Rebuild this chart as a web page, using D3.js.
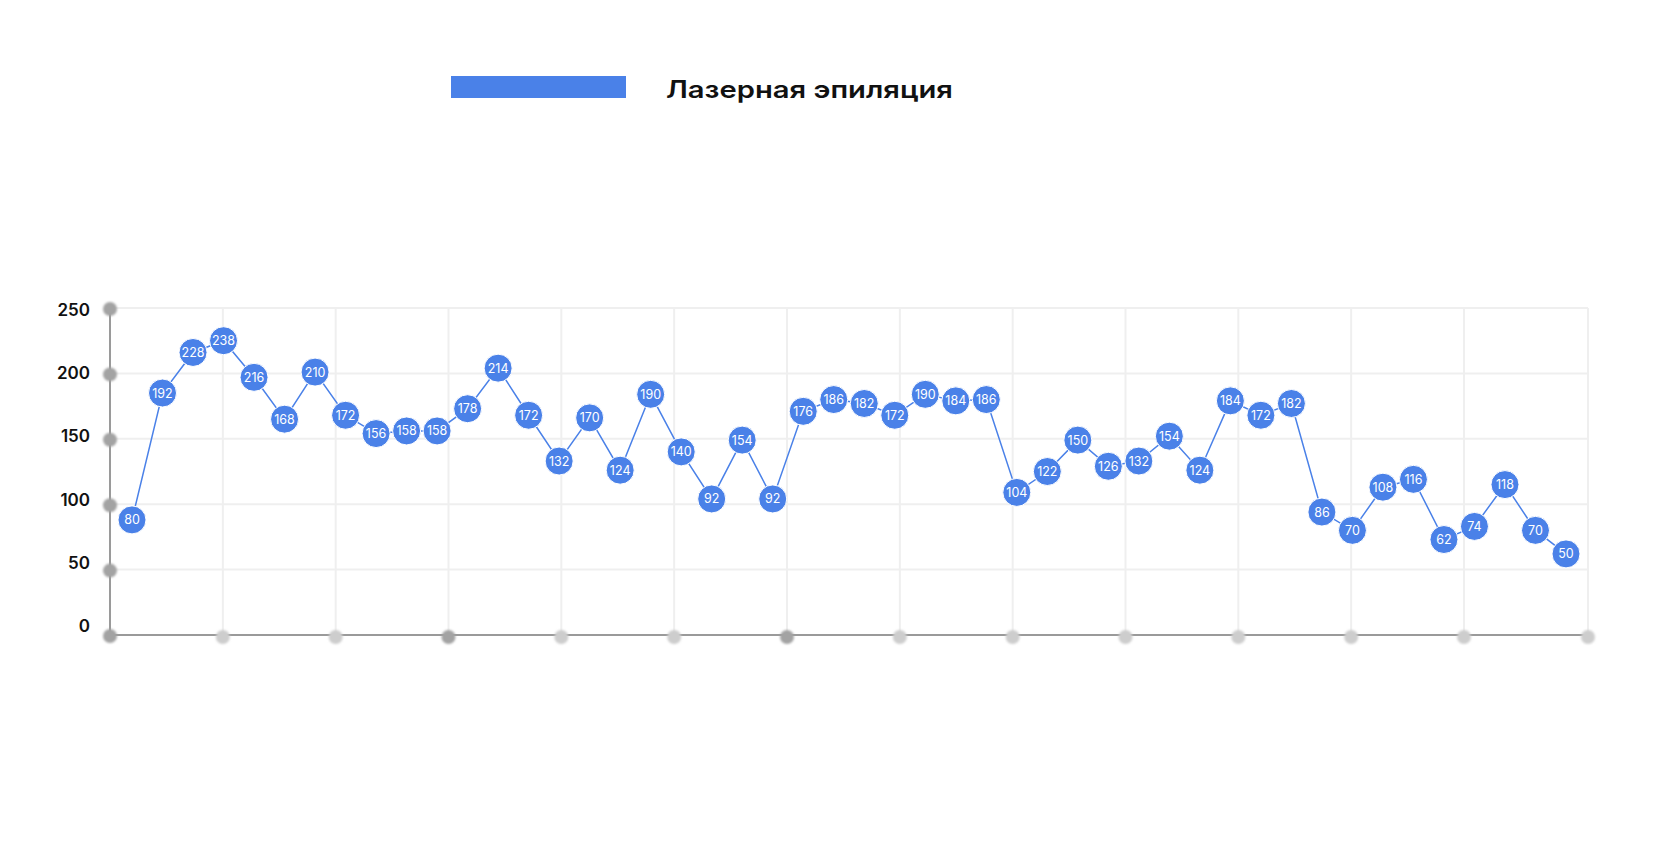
<!DOCTYPE html>
<html>
<head>
<meta charset="utf-8">
<script src="https://cdn.jsdelivr.net/npm/d3@7"></script>
<style>
  body { margin: 0; background: #fff; }
  svg { display: block; font-family: Inter, "Noto Sans", sans-serif; }
</style>
</head>
<body>
<div id="chart-wrapper"></div>
<script>
// series name
const seriesName = "Лазерная эпиляция";

// numbers printed inside the markers
const pointLabels = [80, 192, 228, 238, 216, 168, 210, 172, 156, 158, 158, 178, 214, 172, 132, 170,
  124, 190, 140, 92, 154, 92, 176, 186, 182, 172, 190, 184, 186, 104, 122, 150,
  126, 132, 154, 124, 184, 172, 182, 86, 70, 108, 116, 62, 74, 118, 70, 50];

// where the markers sit against the y axis
const pointValues = [88, 185, 216, 225, 197, 165, 201, 168, 154, 156, 156, 173, 204, 168, 133, 166,
  126, 184, 140, 104, 149, 104, 171, 180, 177, 168, 184, 179, 180, 109, 125, 149,
  129, 133, 152, 126, 179, 168, 177, 94, 80, 113, 119, 73, 83, 115, 80, 62];

// y axis ticks
const yTicks = [0, 50, 100, 150, 200, 250];

// x grid columns, and which axis dots are darker
const xColumns = [0, 1, 2, 3, 4, 5, 6, 7, 8, 9, 10, 11, 12, 13];
const darkColumns = [0, 3, 6];

const blue = "#4a81e8";

let dimensions = {
  width: 1680,
  height: 855,
  margin: { top: 308, right: 92, bottom: 220, left: 110 },
};
dimensions.boundedWidth = dimensions.width - dimensions.margin.left - dimensions.margin.right;
dimensions.boundedHeight = dimensions.height - dimensions.margin.top - dimensions.margin.bottom;

const wrapper = d3.select("#chart-wrapper")
  .append("svg")
  .attr("width", dimensions.width)
  .attr("height", dimensions.height);

const defs = wrapper.append("defs");
defs.append("filter")
  .attr("id", "soft")
  .attr("x", "-50%").attr("y", "-50%").attr("width", "200%").attr("height", "200%")
  .append("feGaussianBlur")
  .attr("stdDeviation", 1.2);

// legend
const legend = wrapper.append("g");
legend.append("rect")
  .attr("x", 451).attr("y", 76)
  .attr("width", 175).attr("height", 22)
  .attr("fill", blue);
legend.append("text")
  .attr("x", 666).attr("y", 98)
  .attr("font-size", 24)
  .attr("font-weight", 600)
  .attr("fill", "#111")
  .attr("textLength", 287)
  .attr("lengthAdjust", "spacingAndGlyphs")
  .text(seriesName);

const bounds = wrapper.append("g")
  .attr("transform", `translate(${dimensions.margin.left},${dimensions.margin.top})`);

// scales
const yScale = d3.scaleLinear()
  .domain([0, 250])
  .range([dimensions.boundedHeight, 0]);

// tick labels are spaced a little tighter than the grid in the original
const yLabelScale = d3.scaleLinear()
  .domain([0, 250])
  .range([318, 2]);

const gridScale = d3.scaleLinear()
  .domain([0, 12])
  .range([0, 1354]);

const xScale = d3.scaleLinear()
  .domain([0, pointValues.length - 1])
  .range([22, 1456]);

// grid
const grid = bounds.append("g")
  .attr("stroke", "#efefef")
  .attr("stroke-width", 2);

grid.selectAll("line.h")
  .data(yTicks.slice(1))
  .join("line")
  .attr("x1", 0).attr("x2", dimensions.boundedWidth)
  .attr("y1", (d) => yScale(d)).attr("y2", (d) => yScale(d));

grid.selectAll("line.v")
  .data(xColumns)
  .join("line")
  .attr("x1", (d) => (d === 13 ? dimensions.boundedWidth : gridScale(d)))
  .attr("x2", (d) => (d === 13 ? dimensions.boundedWidth : gridScale(d)))
  .attr("y1", 0).attr("y2", dimensions.boundedHeight);

// axis lines
bounds.append("line")
  .attr("x1", 0).attr("x2", 0)
  .attr("y1", yScale(250)).attr("y2", yScale(0))
  .attr("stroke", "#9a9a9a").attr("stroke-width", 2);

bounds.append("line")
  .attr("x1", 0).attr("x2", dimensions.boundedWidth)
  .attr("y1", yScale(0)).attr("y2", yScale(0))
  .attr("stroke", "#9a9a9a").attr("stroke-width", 2);

// axis dots
bounds.append("g")
  .selectAll("circle")
  .data(yTicks)
  .join("circle")
  .attr("cx", 0)
  .attr("cy", (d) => yScale(d) + 1)
  .attr("r", 7)
  .attr("fill", "#a3a3a3")
  .attr("filter", "url(#soft)");

bounds.append("g")
  .selectAll("circle")
  .data(xColumns.slice(1))
  .join("circle")
  .attr("cx", (d) => (d === 13 ? dimensions.boundedWidth : gridScale(d)))
  .attr("cy", yScale(0) + 2)
  .attr("r", 7)
  .attr("fill", (d) => (darkColumns.includes(d) ? "#a3a3a3" : "#cdcdcd"))
  .attr("filter", "url(#soft)");

// y tick labels
bounds.append("g")
  .selectAll("text")
  .data(yTicks)
  .join("text")
  .attr("x", -20)
  .attr("y", (d) => yLabelScale(d))
  .attr("dy", "0.35em")
  .attr("text-anchor", "end")
  .attr("font-size", 17)
  .attr("font-weight", 600)
  .attr("fill", "#111")
  .text((d) => d);

// line
const lineGenerator = d3.line()
  .x((d, i) => xScale(i))
  .y((d) => yScale(d));

bounds.append("path")
  .datum(pointValues)
  .attr("d", lineGenerator)
  .attr("fill", "none")
  .attr("stroke", blue)
  .attr("stroke-width", 1.5);

// markers
const points = bounds.append("g")
  .selectAll("g")
  .data(pointValues)
  .join("g")
  .attr("transform", (d, i) => `translate(${xScale(i)},${yScale(d)})`);

points.append("circle")
  .attr("r", 14)
  .attr("fill", blue)
  .attr("stroke", "#fff")
  .attr("stroke-width", 1);

points.append("text")
  .attr("text-anchor", "middle")
  .attr("dy", "0.36em")
  .attr("font-size", 12.5)
  .attr("fill", "#fff")
  .text((d, i) => pointLabels[i]);
</script>
</body>
</html>
